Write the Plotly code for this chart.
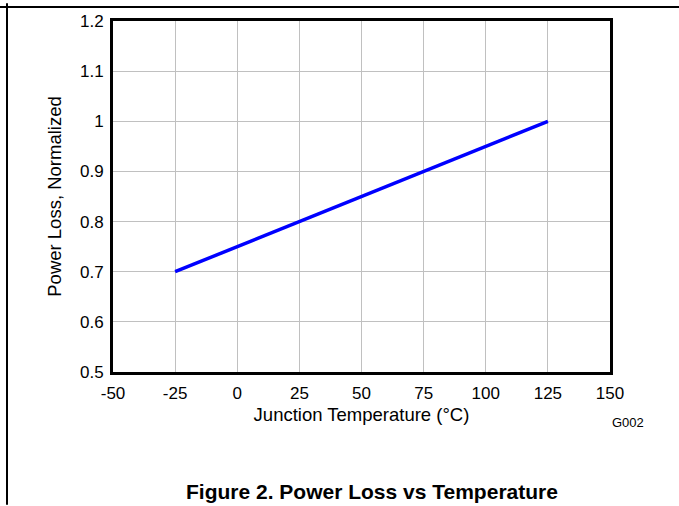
import plotly.graph_objects as go

temperature = [-25, 0, 25, 50, 75, 100, 125]
power_loss = [0.70, 0.75, 0.80, 0.85, 0.90, 0.95, 1.00]
x_ticks = [-50, -25, 0, 25, 50, 75, 100, 125, 150]
x_tick_labels = ["-50", "-25", "0", "25", "50", "75", "100", "125", "150"]
y_ticks = [0.5, 0.6, 0.7, 0.8, 0.9, 1.0, 1.1, 1.2]
y_tick_labels = ["0.5", "0.6", "0.7", "0.8", "0.9", "1", "1.1", "1.2"]

L, R, T, B = 113, 610, 18, 372
W, H = 679, 506

def px(x):
    return (x - L) / (R - L)

def py(y):
    return (B - y) / (B - T)

FAM = "Liberation Sans, Arial, sans-serif"

fig = go.Figure()
fig.add_trace(go.Scatter(x=temperature, y=power_loss, mode="lines",
                         line=dict(color="#0000ff", width=3.5), showlegend=False))

tick_font = dict(family=FAM, size=17, color="black")
title_font = dict(family=FAM, size=18.5, color="black")

fig.update_layout(
    width=W, height=H,
    margin=dict(l=L, r=W - R, t=T, b=H - B),
    paper_bgcolor="white", plot_bgcolor="white",
    font=tick_font,
    xaxis=dict(range=[-50, 150], tickvals=x_ticks, ticktext=x_tick_labels, showgrid=True,
               gridcolor="#c0c0c0", gridwidth=1, showline=True, linecolor="black",
               linewidth=3, mirror=True, ticks="", zeroline=False, tickfont=tick_font,
               ticklabelstandoff=4,
               title=dict(text="Junction Temperature (°C)", font=title_font, standoff=6)),
    yaxis=dict(range=[0.5, 1.2], tickvals=y_ticks, ticktext=y_tick_labels, showgrid=True,
               gridcolor="#c0c0c0", gridwidth=1, showline=True, linecolor="black",
               linewidth=3, mirror=True, ticks="", zeroline=False, tickfont=tick_font,
               ticklabelstandoff=3,
               title=dict(text="Power Loss, Normalized", font=title_font, standoff=14)),
)

# page frame lines
fig.add_shape(type="line", xref="paper", yref="paper", x0=px(0), x1=px(679), y0=py(4), y1=py(4),
              line=dict(color="black", width=2))
fig.add_shape(type="line", xref="paper", yref="paper", x0=px(7), x1=px(7), y0=py(0), y1=py(506),
              line=dict(color="black", width=2))

fig.add_annotation(text="G002", xref="paper", yref="paper", x=px(628), y=py(423),
                   xanchor="center", yanchor="middle",
                   showarrow=False, font=dict(family=FAM, size=13, color="black"))
fig.add_annotation(text="<b>Figure 2. Power Loss vs Temperature</b>", xref="paper", yref="paper",
                   x=px(372), y=py(493), xanchor="center", yanchor="middle", showarrow=False,
                   font=dict(family=FAM, size=21, color="black"))

fig.write_html("out.html", config={"displayModeBar": False},
               post_script="document.body.style.margin='0';document.body.style.padding='0';")
